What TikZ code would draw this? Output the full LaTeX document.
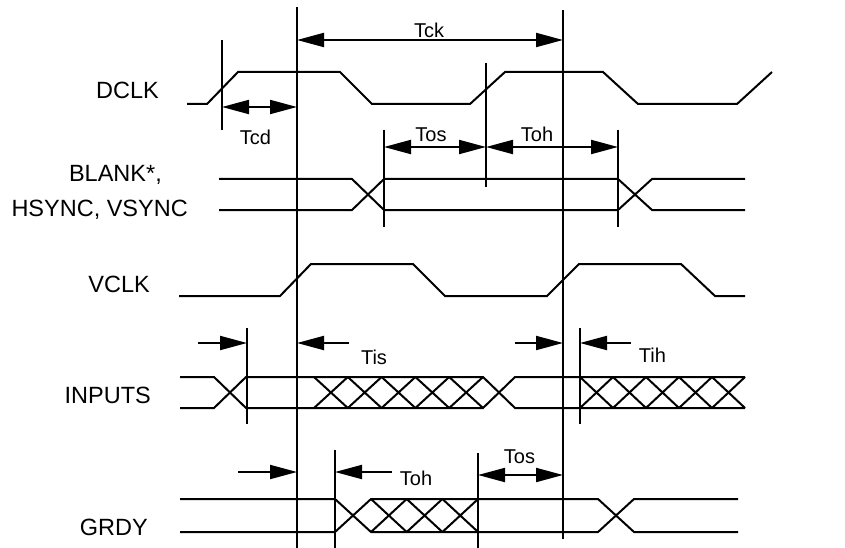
\documentclass[tikz,border=0pt]{standalone}
\usepackage{fontspec}
\setmainfont{Liberation Sans}
\usetikzlibrary{arrows.meta}

\tikzset{
  wave/.style={line width=2pt, line join=miter},
  guide/.style={line width=2pt},
  dimen/.style={line width=2pt},
  sigtext/.style={anchor=base east, inner sep=0pt, font=\fontsize{23.5}{28}\selectfont},
  timtext/.style={anchor=base, inner sep=0pt, font=\fontsize{20}{24}\selectfont},
}

\begin{document}
\begin{tikzpicture}[x=1pt,y=-1pt,>={Triangle[length=27pt,width=14pt]}]
\useasboundingbox (0,0) rectangle (845,548);

% signal names
\node[sigtext] (dclk) at (159,99) {DCLK};
\node[sigtext] (blank) at (162,182) {BLANK*,};
\node[sigtext] (sync) at (188,216) {HSYNC, VSYNC};
\node[sigtext] (vclk) at (150,292) {VCLK};
\node[sigtext] (inputs) at (151,403) {INPUTS};
\node[sigtext] (grdy) at (148,535) {GRDY};

% reference lines
\foreach \n/\x/\a/\b in {ta/297/7/548, tb/563/10/539, tcd/222/40/130, tdk/486/63/187,
    bl1/384/130/227, bl2/618/130/227, in1/247/328/424, in2/580/328/424,
    gr1/335/450/548, gr2/478/453/548}
  \draw[guide] (\x,\a) coordinate (\n) -- (\x,\b);

% waveforms
\draw[wave] (187,104) -- (207,104) -- (238,72) -- (340,72) -- (372,104) -- (470,104)
  -- (505,72) -- (603,72) -- (638,104) -- (737,104) -- (772,72);
\draw[wave] (219,179) -- (352,179) -- (384,210) -- (618,210) -- (652,179) -- (745,179);
\draw[wave] (219,210) -- (352,210) -- (384,179) -- (618,179) -- (652,210) -- (745,210);
\draw[wave] (179,296) -- (280,296) -- (311,264) -- (413,264) -- (445,296) -- (547,296)
  -- (579,264) -- (681,264) -- (715,296) -- (745,296);
\draw[wave] (180,377) -- (214,377) -- (246,408) -- (483,408) -- (515,377) -- (745,377);
\draw[wave] (180,408) -- (214,408) -- (246,377) -- (483,377) -- (515,408) -- (745,408);
\draw[wave] (180,499) -- (335,499) -- (371,532) -- (598,532) -- (634,499) -- (738,499);
\draw[wave] (180,532) -- (335,532) -- (371,499) -- (598,499) -- (634,532) -- (738,532);

% don't-care hatching
\foreach \s/\w/\k/\u/\v in {314/33.8/4/377/408, 580/33/4/377/408, 371/35.7/2/499/532}
  \foreach \i in {0,...,\k}
    \draw[wave] ({\s+\i*\w},\u) -- ({\s+(\i+1)*\w},\v)
                ({\s+\i*\w},\v) -- ({\s+(\i+1)*\w},\u);

% timing labels
\node[timtext] (tck) at (429,38) {Tck};
\node[timtext] (tcdl) at (255.5,145) {Tcd};
\node[timtext] (tos1) at (431,142) {Tos};
\node[timtext] (toh1) at (537,142) {Toh};
\node[timtext] (tis) at (374,364) {Tis};
\node[timtext] (tih) at (652.5,362.5) {Tih};
\node[timtext] (toh2) at (416,485) {Toh};
\node[timtext] (tos2) at (519.5,463) {Tos};

% timing arrows
\draw[dimen,<->] (ta |- 0,40) -- (tb |- 0,40);
\draw[dimen,<->] (tcd |- 0,107) -- (ta |- 0,107);
\draw[dimen,<->] (bl1 |- 0,147) -- (tdk |- 0,147);
\draw[dimen,<->] (tdk |- 0,147) -- (bl2 |- 0,147);
\draw[dimen,->] (198,343) -- (in1 |- 0,343);
\draw[dimen,->] (349,343) -- (ta |- 0,343);
\draw[dimen,->] (515,343) -- (tb |- 0,343);
\draw[dimen,->] (631,343) -- (in2 |- 0,343);
\draw[dimen,->] (238,472) -- (ta |- 0,472);
\draw[dimen,->] (392,472) -- (gr1 |- 0,472);
\draw[dimen,<->] (gr2 |- 0,475) -- (tb |- 0,475);
\end{tikzpicture}
\end{document}
